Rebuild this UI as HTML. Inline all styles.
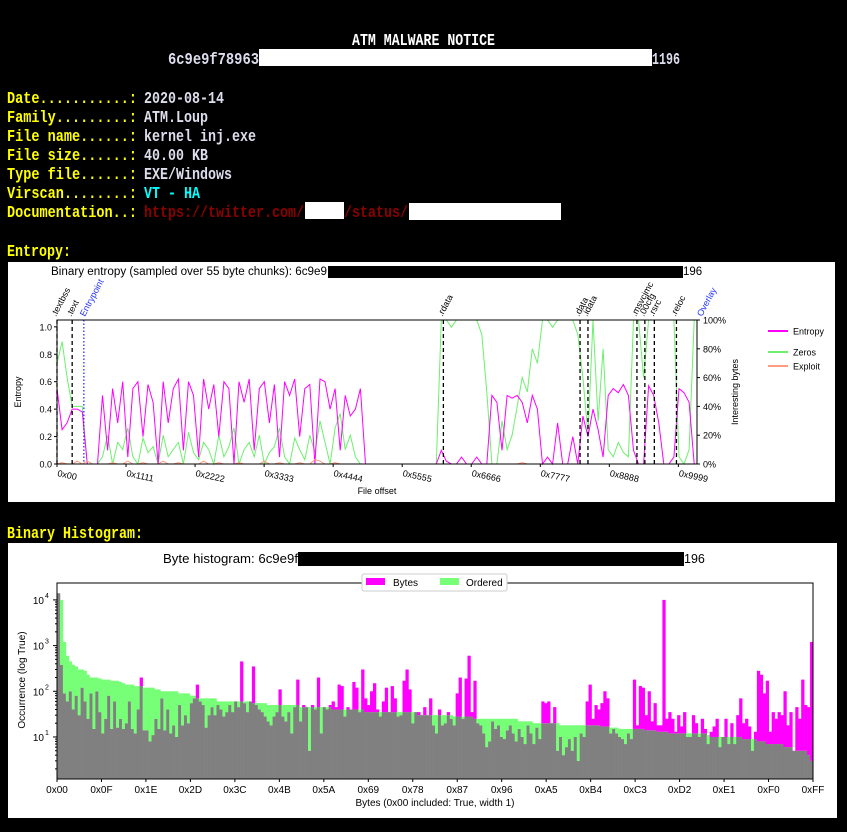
<!DOCTYPE html>
<html><head><meta charset="utf-8"><style>
html,body{margin:0;padding:0;background:#000;width:847px;height:832px;overflow:hidden}
svg{display:block}
.m{font-family:"Liberation Mono",monospace;font-weight:bold}
.s{font-family:"Liberation Sans",sans-serif}
</style></head><body>
<svg id="page" width="847" height="832" viewBox="0 0 847 832">
<rect width="847" height="832" fill="#000"/>
<g class="m" font-size="17">
<text x="352" y="45" fill="#fff" textLength="143" lengthAdjust="spacingAndGlyphs">ATM MALWARE NOTICE</text>
<text x="168" y="64" fill="#dde" textLength="91" lengthAdjust="spacingAndGlyphs">6c9e9f78963</text>
<rect x="259" y="49" width="393" height="17" fill="#fff"/>
<text x="652" y="64" fill="#dde" textLength="28" lengthAdjust="spacingAndGlyphs">1196</text>
</g>
<g class="m" font-size="17">
<text x="7" y="103" fill="#ff0" textLength="130" lengthAdjust="spacingAndGlyphs">Date...........:</text>
<text x="144" y="103" fill="#dde" textLength="80" lengthAdjust="spacingAndGlyphs">2020-08-14</text>
<text x="7" y="122" fill="#ff0" textLength="130" lengthAdjust="spacingAndGlyphs">Family.........:</text>
<text x="144" y="122" fill="#dde" textLength="64" lengthAdjust="spacingAndGlyphs">ATM.Loup</text>
<text x="7" y="141" fill="#ff0" textLength="130" lengthAdjust="spacingAndGlyphs">File name......:</text>
<text x="144" y="141" fill="#dde" textLength="112" lengthAdjust="spacingAndGlyphs">kernel inj.exe</text>
<text x="7" y="160" fill="#ff0" textLength="130" lengthAdjust="spacingAndGlyphs">File size......:</text>
<text x="144" y="160" fill="#dde" textLength="64" lengthAdjust="spacingAndGlyphs">40.00 KB</text>
<text x="7" y="179" fill="#ff0" textLength="130" lengthAdjust="spacingAndGlyphs">Type file......:</text>
<text x="144" y="179" fill="#dde" textLength="88" lengthAdjust="spacingAndGlyphs">EXE/Windows</text>
<text x="7" y="198" fill="#ff0" textLength="130" lengthAdjust="spacingAndGlyphs">Virscan........:</text>
<text x="144" y="198" fill="#0ff" textLength="56" lengthAdjust="spacingAndGlyphs">VT - HA</text>
<text x="7" y="217" fill="#ff0" textLength="130" lengthAdjust="spacingAndGlyphs">Documentation..:</text>
<text x="144" y="217" fill="#8b0000" textLength="160" lengthAdjust="spacingAndGlyphs">https://twitter.com/</text>
<rect x="305" y="202" width="39" height="17" fill="#fff"/>
<text x="344" y="217" fill="#8b0000" textLength="64" lengthAdjust="spacingAndGlyphs">/status/</text>
<rect x="409" y="203" width="152" height="17" fill="#fff"/>
<text x="7" y="256" fill="#ff0" textLength="64" lengthAdjust="spacingAndGlyphs">Entropy:</text>
<text x="7" y="538" fill="#ff0" textLength="136" lengthAdjust="spacingAndGlyphs">Binary Histogram:</text>
</g>

<rect x="8" y="262" width="827" height="240" fill="#fff"/>
<g id="ent" class="s"></g>
<rect x="8" y="543" width="829" height="275" fill="#fff"/>
<g id="hist" class="s"></g>
</svg>
<script>
// ---------- Entropy chart data ----------
const entropyValues = [0.55,0.25,0.3, 0.4,0.4,0.38, 0,0,0,
0.5,0.1,0.55,0.3,0.6,0.05,0.55,0.6,0.2,0.58,0.45,0.0,0.6,0.3,0.55,0.62,0.1,0.6,0.5,0.05,0.62,0.4,0.58,0.2,0.6,0.55,0.0,0.6,0.45,0.62,0.1,0.55,0.6,0.3,0.58,0.05,0.6,0.5,0.62,0.2,0.55,0.58,0.0,0.62,0.6,0.4,0.55,0.1,0.5,0.35,0.4,0.55,
0,0,0,0,0,0,0,0,0,0,0,0,0,0,0,
0.1,0.02,0, 0,0.05,0,0,0.05,0,0, 0.5,0.45,0.1,0.5,0.48,0.5, 0.45,0.3,0.5,0.4, 0,0.05,0,0.3,0, 0,0.2,0,
0.35,0.2,0.4,0.25, 0.05, 0.5,0.55,0.52,0.58,0.5, 0.1,0,0, 0.57,0.5,0.3, 0,0,0.05, 0.55,0.52,0.45, 0,0];
const zerosValues = [70,85,60, 40,40,40, 0,0,0,
5,20,0,15,10,25,5,0,18,8,12,0,20,5,10,15,0,22,8,3,15,10,0,20,5,12,25,0,10,15,5,20,0,8,12,25,5,0,18,10,3,20,8,30,15,0,25,35,10,20,5,0,
0,0,0,0,0,0,0,0,0,0,0,0,0,0,0,
100,100,95,100,100,100,100,100,90, 50,0, 0,30,10,20,40, 60,50,80,70,
100,100,95,100,100,100,100,90, 60,20,100,30, 80, 10,5,15,8,5, 100,100,60, 100,100,100, 100,100,100, 5,0,10, 100,100];
const exploitValues = [0,1,0,0,2,0,2,0,0,0,0,1,0,0,2,0,0,1,0,0,0,2,0,0,1,0,0,0,0,2,0,0,1,0,0,0,1,0,0,0,0,2,0,0,1,0,0,0,1,0,0,3,2,0,0,1,0,0,0,0,0,
0,0,0,0,0,0,0,0,0,0,0,0,0,0,0,0,0,0,0,0,0,0,0,0,0,0,0,0,0,0,0,1,0,0,0,0,0,0,0,0,0,0,0,0,0,0,0,0,0,0,0,0,0,0,0,0,0,0,0,0,0,0,0,0,0,0,0];
const chunkBytes = 320;
const xTickLabels = ["0x00","0x1111","0x2222","0x3333","0x4444","0x5555","0x6666","0x7777","0x8888","0x9999"];
const xTickValues = [0,4369,8738,13107,17476,21845,26214,30583,34952,39321];
const sectionNames = [".textbss",".text",".rdata",".data",".idata",".msvcjmc",".00cfg",".rsrc",".reloc"];
const sectionOffsets = [0,960,24450,33100,33600,36700,37200,37800,39200];
const entryOffset = 1700;
const overlayOffset = 40500;
const entropyTicks = [0,0.2,0.4,0.6,0.8,1.0];
const pctTicks = [0,20,40,60,80,100];

// ---------- Histogram data ----------
const byteCounts = [14000,380,90,60,100,40,80,30,120,60,25,90,15,100,35,
12,25,80,15,60,16,25,15,20,60,15,12,40,200,14,
14,8,11,25,15,70,14,40,12,18,10,50,18,30,20,
55,70,140,60,50,16,30,45,30,50,40,28,35,50,35,
60,45,450,55,35,60,350,50,40,35,28,22,18,28,35,
110,28,22,35,12,45,180,22,50,45,5,50,40,200,12,
45,40,50,60,45,140,130,28,45,40,160,120,35,300,70,
50,100,150,40,28,60,120,35,130,70,28,30,170,300,110,
20,35,35,30,45,30,70,18,12,40,18,20,35,25,18,
90,200,25,190,600,35,170,20,18,12,6,8,22,15,18,
10,9,14,18,12,8,15,10,7,18,12,7,16,9,60,
55,60,20,45,5,10,4,6,9,5,10,3,12,10,60,
140,25,50,40,55,100,70,12,15,12,10,9,7,12,9,
180,18,130,120,30,100,22,55,18,18,10000,25,35,25,13,
30,17,35,10,10,30,20,10,25,15,7,13,17,25,6,
10,25,7,20,7,30,70,20,25,17,5,13,280,230,90,
170,13,35,25,35,30,100,18,35,5,45,25,180,50,45,1200];
const histTickLabels = ["0x00","0x0F","0x1E","0x2D","0x3C","0x4B","0x5A","0x69","0x78","0x87","0x96","0xA5","0xB4","0xC3","0xD2","0xE1","0xF0","0xFF"];
const histYTickExp = [1,2,3,4];

const NS="http://www.w3.org/2000/svg";
function mk(parent,tag,attrs,text){const e=document.createElementNS(NS,tag);for(const k in attrs)e.setAttribute(k,attrs[k]);if(text!==undefined)e.textContent=text;parent.appendChild(e);return e;}

// ===== Entropy chart =====
(function(){
const g=document.getElementById('ent');
const L=57,R=697,T=320,B=464,XMAX=40500;
const x=v=>L+v/XMAX*(R-L);
const yE=v=>B-v/1.05*(B-T);
const yP=v=>B-v/100*(B-T);
let t=mk(g,'text',{x:51,y:275,'font-size':11.5,fill:'#000',textLength:276,lengthAdjust:'spacingAndGlyphs'},'Binary entropy (sampled over 55 byte chunks): 6c9e9');

let r=mk(g,'rect',{x:328,y:266,width:355,height:12,fill:'#000'});

t=mk(g,'text',{x:683,y:275,'font-size':11.5,fill:'#000'},'196');

function line(vals,yf,color,name){
  const pts=vals.map((v,i)=>x(i*chunkBytes).toFixed(1)+','+yf(v).toFixed(1)).join(' ');
  const p=mk(g,'polyline',{points:pts,fill:'none',stroke:color,'stroke-width':1});
  
}
line(zerosValues,yP,'#6ef06e','zeros-line');
line(entropyValues,yE,'#ff00ff','entropy-line');
line(exploitValues,yP,'#ff9c80','exploit-line');
sectionOffsets.forEach((o,i)=>{
  const l=mk(g,'line',{x1:x(o),x2:x(o),y1:T,y2:B,stroke:'#000','stroke-width':1.3,'stroke-dasharray':'4,3'});
  
  const tx=mk(g,'text',{x:0,y:0,'font-size':9,fill:'#000',transform:`translate(${x(o)-1},${T-3}) rotate(-62)`},sectionNames[i]);
  
});
let el=mk(g,'line',{x1:x(entryOffset),x2:x(entryOffset),y1:T,y2:B,stroke:'#2233ff','stroke-width':1.3,'stroke-dasharray':'1.5,2'});

el=mk(g,'text',{x:0,y:0,'font-size':9,fill:'#2233ff',transform:`translate(${x(entryOffset)+1},${T-3}) rotate(-62)`},'Entrypoint');

el=mk(g,'text',{x:0,y:0,'font-size':9,fill:'#2233ff',transform:`translate(${x(overlayOffset)+5},${T-3}) rotate(-62)`},'Overlay');

el=mk(g,'rect',{x:L,y:T,width:R-L,height:B-T,fill:'none',stroke:'#000','stroke-width':1});

entropyTicks.forEach(v=>{
  mk(g,'line',{x1:L-3,x2:L,y1:yE(v),y2:yE(v),stroke:'#000'});
  const tt=mk(g,'text',{x:L-5,y:yE(v)+3.5,'font-size':9,'text-anchor':'end',fill:'#000'},v.toFixed(1));
  
});
pctTicks.forEach(v=>{
  mk(g,'line',{x1:R,x2:R+3,y1:yP(v),y2:yP(v),stroke:'#000'});
  const tt=mk(g,'text',{x:R+6,y:yP(v)+3.5,'font-size':9,fill:'#000'},v+'%');
  
});
xTickValues.forEach((v,i)=>{
  mk(g,'line',{x1:x(v),x2:x(v),y1:B,y2:B+3,stroke:'#000'});
  const tt=mk(g,'text',{x:0,y:0,'font-size':9,fill:'#000',transform:`translate(${x(v)},${B+12}) rotate(12)`},xTickLabels[i]);
  
});
el=mk(g,'text',{x:377,y:494,'font-size':9,'text-anchor':'middle',fill:'#000'},'File offset');

el=mk(g,'text',{x:0,y:0,'font-size':9,'text-anchor':'middle',fill:'#000',transform:'translate(21,392) rotate(-90)'},'Entropy');

el=mk(g,'text',{x:0,y:0,'font-size':9,'text-anchor':'middle',fill:'#000',transform:'translate(738,392) rotate(-90)'},'Interesting bytes');

[['Entropy','#ff00ff',331],['Zeros','#6ef06e',352],['Exploit','#ff9c80',366]].forEach(a=>{
  const gg=mk(g,'g',{});
  
  mk(gg,'line',{x1:768,x2:788,y1:a[2],y2:a[2],stroke:a[1],'stroke-width':2});
  mk(gg,'text',{x:793,y:a[2]+3.5,'font-size':9,fill:'#000'},a[0]);
});
})();

// ===== Histogram =====
(function(){
const g=document.getElementById('hist');
const L=57,R=813,T=583,B=779,LMIN=0.08,LMAX=4.37;
const bw=(R-L)/256;
const x=b=>L+b*bw;
const y=v=>B-(Math.log10(Math.max(v,1e-9))-LMIN)/(LMAX-LMIN)*(B-T);
const ordered=byteCounts.slice().sort((a,b)=>b-a);
let el=mk(g,'text',{x:163,y:563,'font-size':12.5,fill:'#000',textLength:135,lengthAdjust:'spacingAndGlyphs'},'Byte histogram: 6c9e9f');

el=mk(g,'rect',{x:298,y:552,width:386,height:14,fill:'#000'});

el=mk(g,'text',{x:684,y:563,'font-size':12.5,fill:'#000'},'196');

byteCounts.forEach((bv,i)=>{
  const ov=ordered[i];const mn=Math.min(bv,ov);
  const x0=x(i);
  const yg=Math.max(T,y(mn));
  const gr=mk(g,'rect',{x:x0,y:yg,width:bw+0.3,height:Math.max(0,B-yg),fill:'#808080'});
  
  if(ov>bv){const yt=Math.max(T,y(ov));const r=mk(g,'rect',{x:x0,y:yt,width:bw+0.3,height:Math.max(0,yg-yt),fill:'#77ff77'});
    }
  if(bv>ov){const yt=Math.max(T,y(bv));const r=mk(g,'rect',{x:x0,y:yt,width:bw+0.3,height:Math.max(0,yg-yt),fill:'#ff00ff'});
    }
});
el=mk(g,'rect',{x:L,y:T,width:R-L,height:B-T,fill:'none',stroke:'#000','stroke-width':1});

histTickLabels.forEach((lab,i)=>{
  const xv=L+i*15*(R-L)/255;
  mk(g,'line',{x1:xv,x2:xv,y1:B,y2:B+3,stroke:'#000'});
  const tt=mk(g,'text',{x:xv,y:B+14,'font-size':10,'text-anchor':'middle',fill:'#000'},lab);
  
});
histYTickExp.forEach(e=>{
  const yy=y(Math.pow(10,e));
  mk(g,'line',{x1:L-4,x2:L,y1:yy,y2:yy,stroke:'#000'});
  for(let k=2;k<10;k++){const ym=y(k*Math.pow(10,e-1));if(ym>=T&&ym<=B)mk(g,'line',{x1:L-2,x2:L,y1:ym,y2:ym,stroke:'#000'});}
  const tt=mk(g,'text',{x:L-13,y:yy+4,'font-size':10,'text-anchor':'end',fill:'#000'},'10');
  
  mk(g,'text',{x:L-12,y:yy-2,'font-size':7,fill:'#000'},String(e));
});
el=mk(g,'text',{x:435,y:806,'font-size':10,'text-anchor':'middle',fill:'#000'},'Bytes (0x00 included: True, width 1)');

el=mk(g,'text',{x:0,y:0,'font-size':10,'text-anchor':'middle',fill:'#000',transform:'translate(25,680) rotate(-90)'},'Occurrence (log True)');

const lg=mk(g,'g',{});

mk(lg,'rect',{x:362,y:574,width:145,height:17,fill:'#fff',stroke:'#ccc',rx:2});
mk(lg,'rect',{x:366,y:578,width:19,height:7,fill:'#ff00ff'});
mk(lg,'text',{x:393,y:586,'font-size':10,fill:'#000'},'Bytes');
mk(lg,'rect',{x:440,y:578,width:19,height:7,fill:'#77ff77'});
mk(lg,'text',{x:466,y:586,'font-size':10,fill:'#000'},'Ordered');
})();
</script>
</body></html>
